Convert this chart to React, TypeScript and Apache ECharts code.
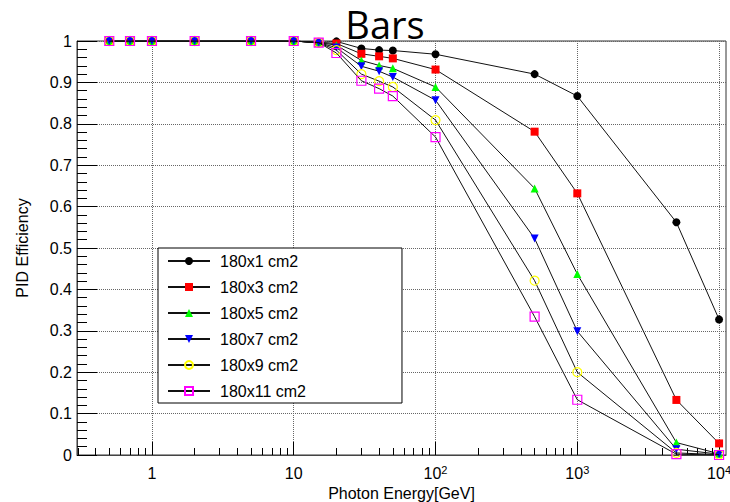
import React, { useEffect, useRef } from 'react';
import * as echarts from 'echarts';

// Photon energy (GeV) of each measured point
const energies = [0.5, 0.7, 1, 2, 5, 10, 15, 20, 30, 40, 50, 100, 500, 1000, 5000, 10000];

const seriesNames = ['180x1 cm2', '180x3 cm2', '180x5 cm2', '180x7 cm2', '180x9 cm2', '180x11 cm2'];

const eff1x1 = [1, 1, 1, 1, 1, 1, 0.996, 0.999, 0.982, 0.978, 0.977, 0.968, 0.92, 0.867, 0.562, 0.3275];
const eff1x3 = [1, 1, 1, 1, 1, 1, 0.996, 0.994, 0.969, 0.963, 0.958, 0.931, 0.781, 0.632, 0.133, 0.028];
const eff1x5 = [1, 1, 1, 1, 1, 1, 0.996, 0.99, 0.953, 0.941, 0.934, 0.889, 0.644, 0.437, 0.03, 0.003];
const eff1x7 = [1, 1, 1, 1, 1, 1, 0.996, 0.984, 0.939, 0.927, 0.913, 0.857, 0.523, 0.299, 0.014, 0.002];
const eff1x9 = [1, 1, 1, 1, 1, 1, 0.996, 0.978, 0.92, 0.903, 0.889, 0.809, 0.421, 0.2, 0.005, 0.001];
const eff1x11 = [1, 1, 1, 1, 1, 1, 0.996, 0.971, 0.904, 0.885, 0.867, 0.768, 0.334, 0.1335, 0.002, 0.0];

// x-axis range (GeV), log scale
const xRange = [0.296, 11190];
const xMajorTicks = [1, 10, 100, 1000, 10000];
const xTickLabels = ['1', '10', '10^2', '10^3', '10^4'];
const xMinorMultipliers = [2, 3, 4, 5, 6, 7, 8, 9];
const xDecades = [0.1, 1, 10, 100, 1000];

const title = 'Bars';
const xTitle = 'Photon Energy[GeV]';
const yTitle = 'PID Efficiency';

const FONT = '"Liberation Sans", Arial, sans-serif';

export default function App() {
  const ref = useRef<HTMLDivElement>(null);

  useEffect(() => {
    if (!ref.current) return;
    const chart = echarts.init(ref.current, undefined, { renderer: 'svg' });

    const lg = (v: number) => Math.log10(v);
    const xMin = lg(xRange[0]);
    const xMax = lg(xRange[1]);

    const minorTicks: number[] = [];
    xDecades.forEach((d) =>
      xMinorMultipliers.forEach((m) => {
        const v = d * m;
        if (v >= xRange[0] && v <= xRange[1]) minorTicks.push(lg(v));
      })
    );
    const majorTicks = xMajorTicks.map(lg);

    const styles = [
      { symbol: 'circle', size: 8, rotate: 0, fill: '#000000', border: '#000000', bw: 0 },
      { symbol: 'rect', size: 8, rotate: 0, fill: '#ff0000', border: '#ff0000', bw: 0 },
      { symbol: 'triangle', size: 8, rotate: 0, fill: '#00ff00', border: '#00ff00', bw: 0 },
      { symbol: 'triangle', size: 8, rotate: 180, fill: '#0000ff', border: '#0000ff', bw: 0 },
      { symbol: 'circle', size: 9, rotate: 0, fill: 'rgba(255,255,255,0)', border: '#ffff00', bw: 1.2 },
      { symbol: 'rect', size: 9, rotate: 0, fill: 'rgba(255,255,255,0)', border: '#ff00ff', bw: 1.2 },
    ];
    const values = [eff1x1, eff1x3, eff1x5, eff1x7, eff1x9, eff1x11];

    const series = values.map((vals, i) => ({
      name: seriesNames[i],
      type: 'line',
      xAxisIndex: 0,
      yAxisIndex: 0,
      data: vals.map((v, j) => [lg(energies[j]), v]),
      symbol: styles[i].symbol,
      symbolSize: styles[i].size,
      symbolRotate: styles[i].rotate,
      showAllSymbol: true,
      lineStyle: { color: '#111', width: 1 },
      itemStyle: { color: styles[i].fill, borderColor: styles[i].border, borderWidth: styles[i].bw },
      emphasis: { disabled: true },
      z: 3 + i,
    }));

    chart.setOption({
      animation: false,
      graphic: [
        {
          type: 'text',
          x: 385,
          y: 24,
          z: 100,
          style: {
            text: title,
            font: '38px "Open Sans", "Noto Sans", sans-serif',
            lineHeight: 40,
            fill: '#000',
            textAlign: 'center',
            textVerticalAlign: 'middle',
          },
        },
      ],
      grid: {
        left: 77,
        top: 41,
        width: 649,
        height: 414,
        show: true,
        borderColor: '#333',
        borderWidth: 1,
        backgroundColor: 'transparent',
        containLabel: false,
        outerBoundsMode: 'none',
      },
      legend: {
        show: true,
        orient: 'vertical',
        left: 158,
        top: 248,
        itemWidth: 42,
        itemHeight: 10,
        itemGap: 10,
        padding: [5, 96, 4, 9],
        backgroundColor: '#fff',
        borderColor: '#000',
        borderWidth: 1,
        textStyle: { fontSize: 16, fontFamily: FONT, color: '#000', lineHeight: 16, padding: [0, 0, 0, 5] },
        data: seriesNames,
        selectedMode: false,
      },
      xAxis: [
        {
          type: 'value',
          min: xMin,
          max: xMax,
          position: 'bottom',
          name: xTitle,
          nameLocation: 'middle',
          nameGap: 26,
          nameTextStyle: { fontSize: 16, fontFamily: FONT, color: '#000' },
          axisLine: { show: true, onZero: false, lineStyle: { color: '#444', width: 1 } },
          axisTick: { show: true, inside: true, length: 13, customValues: majorTicks, lineStyle: { color: '#000' } },
          axisLabel: {
            show: true,
            margin: 9,
            hideOverlap: false,
            customValues: majorTicks,
            formatter: (v: number) => {
              const idx = majorTicks.findIndex((t) => Math.abs(t - v) < 1e-6);
              const lab = idx >= 0 ? xTickLabels[idx] : '';
              const parts = lab.split('^');
              return parts.length > 1 ? `{n|${parts[0]}}{s|${parts[1]}}` : `{n|${parts[0]}}`;
            },
            rich: {
              n: { fontSize: 16, fontFamily: FONT, color: '#000', lineHeight: 18 },
              s: { fontSize: 11, fontFamily: FONT, color: '#000', verticalAlign: 'top', lineHeight: 12 },
            },
          },
          splitLine: { show: true, lineStyle: { color: '#666', type: 'dotted', width: 1 } },
          minorTick: { show: false },
        },
        {
          type: 'value',
          min: xMin,
          max: xMax,
          position: 'bottom',
          axisLine: { show: false },
          axisTick: { show: true, inside: true, length: 7, customValues: minorTicks, lineStyle: { color: '#000' } },
          axisLabel: { show: false },
          splitLine: { show: false },
        },
      ],
      yAxis: [
        {
          type: 'value',
          min: 0,
          max: 1,
          interval: 0.1,
          name: yTitle,
          nameLocation: 'middle',
          nameGap: 47,
          nameRotate: 90,
          nameTextStyle: { fontSize: 16, fontFamily: FONT, color: '#000' },
          axisLine: { show: true, onZero: false, lineStyle: { color: '#444', width: 1 } },
          axisTick: { show: true, inside: true, length: 20, lineStyle: { color: '#000' } },
          minorTick: { show: true, splitNumber: 5, length: 10, lineStyle: { color: '#000' } },
          axisLabel: { fontSize: 16, fontFamily: FONT, color: '#000', margin: 5 },
          splitLine: { show: true, lineStyle: { color: '#666', type: 'dotted', width: 1 } },
        },
      ],
      series,
    });

    return () => chart.dispose();
  }, []);

  return (
    <div
      ref={ref}
      style={{ position: 'absolute', left: 0, top: 0, width: 730, height: 502, background: '#fff' }}
    />
  );
}
